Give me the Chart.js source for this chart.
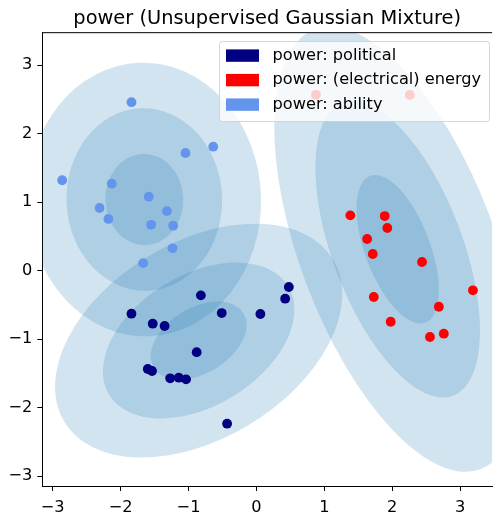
<!DOCTYPE html>
<html>
<head>
<meta charset="utf-8">
<script src="https://cdn.jsdelivr.net/npm/chart.js@4.4.1/dist/chart.umd.min.js"></script>
<style>
  html, body { margin: 0; padding: 0; overflow: hidden; background: #fff; }
  #wrap { width: 497px; height: 519px; }
</style>
</head>
<body>
<div id="wrap"><canvas id="myChart" width="497" height="519"></canvas></div>
<script>
// Categories and colours of the three senses
const categories = ['power: political', 'power: (electrical) energy', 'power: ability'];
const colors = ['#000080', '#ff0000', '#6495ed'];

// Scatter points [x, y] per sense
const politicalPoints = [
  [-1.84, -0.628], [-1.527, -0.774], [-1.352, -0.807], [-0.818, -0.36],
  [-0.511, -0.618], [0.058, -0.632], [0.477, -0.238], [0.423, -0.409],
  [-0.88, -1.19], [-1.60, -1.435], [-1.537, -1.464], [-1.27, -1.571],
  [-1.143, -1.562], [-1.036, -1.586], [-0.432, -2.233]
];
const energyPoints = [
  [1.382, 0.808], [1.889, 0.798], [1.927, 0.623], [1.63, 0.463],
  [1.713, 0.244], [2.438, 0.127], [3.188, -0.286], [1.728, -0.384],
  [2.686, -0.526], [1.977, -0.745], [2.555, -0.968], [2.759, -0.92],
  [0.876, 2.568], [2.258, 2.565]
];
const abilityPoints = [
  [-1.84, 2.46], [-2.86, 1.32], [-2.13, 1.27], [-1.585, 1.08],
  [-2.31, 0.915], [-2.18, 0.755], [-1.318, 0.87], [-1.55, 0.67],
  [-1.226, 0.657], [-1.045, 1.718], [-0.636, 1.81], [-1.235, 0.327],
  [-1.668, 0.11]
];

// Gaussian mixture components (political, energy, ability)
const means = [[-0.851, -1.02], [2.08, 0.314], [-1.651, 1.039]];
const majorAxes = [0.769, 1.145, 0.666];   // 1-sigma semi-axis
const minorAxes = [0.479, 0.479, 0.573];
const anglesDeg = [30.7, -69.1, 92];
const sigmaLevels = [1, 2, 3];

// Axis ticks
const xTicks = [-3, -2, -1, 0, 1, 2, 3];
const yTicks = [-3, -2, -1, 0, 1, 2, 3];

Chart.defaults.font.family = 'DejaVu Sans';
Chart.defaults.color = '#000';

const toXY = pts => pts.map(p => ({ x: p[0], y: p[1] }));
const fmt = v => (v < 0 ? '\u2212' + Math.abs(v) : String(v));

// Gaussian ellipses behind the points
const ellipsePlugin = {
  id: 'ellipses',
  beforeDatasetsDraw(chart) {
    const { ctx, chartArea: a, scales: { x, y } } = chart;
    const kx = x.getPixelForValue(1) - x.getPixelForValue(0);
    const ky = y.getPixelForValue(1) - y.getPixelForValue(0);
    ctx.save();
    ctx.beginPath();
    ctx.rect(a.left, a.top, a.right - a.left, a.bottom - a.top);
    ctx.clip();
    ctx.fillStyle = 'rgba(31, 119, 180, 0.2)';
    means.forEach((m, i) => {
      sigmaLevels.forEach(n => {
        ctx.save();
        ctx.translate(x.getPixelForValue(m[0]), y.getPixelForValue(m[1]));
        ctx.scale(kx, ky);
        ctx.rotate(anglesDeg[i] * Math.PI / 180);
        ctx.beginPath();
        ctx.ellipse(0, 0, majorAxes[i] * n, minorAxes[i] * n, 0, 0, Math.PI * 2);
        ctx.restore();
        ctx.fill();
      });
    });
    ctx.restore();
  }
};

// Top spine and matplotlib-style legend
const framePlugin = {
  id: 'frame',
  afterDraw(chart) {
    const { ctx, chartArea: a } = chart;
    ctx.save();
    ctx.strokeStyle = '#000';
    ctx.lineWidth = 1;
    ctx.beginPath();
    ctx.moveTo(a.left, a.top);
    ctx.lineTo(a.right, a.top);
    ctx.stroke();

    // legend box
    const bx = 219, by = 41, bw = 270, bh = 80;
    ctx.beginPath();
    ctx.roundRect(bx + 0.5, by + 0.5, bw, bh, 3);
    ctx.fillStyle = 'rgba(255,255,255,0.8)';
    ctx.fill();
    ctx.strokeStyle = 'rgba(204,204,204,0.8)';
    ctx.stroke();

    ctx.font = '16.2px "DejaVu Sans"';
    ctx.textBaseline = 'middle';
    ctx.textAlign = 'left';
    categories.forEach((c, i) => {
      const cy = 55.6 + i * 24.5;
      ctx.fillStyle = colors[i];
      ctx.fillRect(226, cy - 6.2, 33, 12.4);
      ctx.fillStyle = '#000';
      ctx.fillText(c, 272.5, cy);
    });
    ctx.restore();
  }
};

new Chart(document.getElementById('myChart'), {
  type: 'scatter',
  data: {
    datasets: [politicalPoints, energyPoints, abilityPoints].map((pts, i) => ({
      label: categories[i],
      data: toXY(pts),
      backgroundColor: colors[i],
      borderColor: colors[i],
      borderWidth: 0,
      pointRadius: 4.9,
      pointHoverRadius: 4.9
    }))
  },
  options: {
    responsive: false,
    animation: false,
    events: [],
    layout: { padding: { left: 0, right: 1, top: 0, bottom: 0 } },
    scales: {
      x: {
        type: 'linear',
        min: -3.153,
        max: 3.47,
        afterFit: s => { s.height = 33; },
        afterBuildTicks: s => { s.ticks = xTicks.map(v => ({ value: v })); },
        grid: { drawOnChartArea: false, tickLength: 5, tickColor: '#000' },
        border: { display: true, color: '#000', width: 1 },
        ticks: { callback: fmt, font: { size: 16.2 }, padding: 7, maxRotation: 0 }
      },
      y: {
        type: 'linear',
        min: -3.143,
        max: 3.4745,
        afterFit: s => { s.width = 42.3; },
        afterBuildTicks: s => { s.ticks = yTicks.map(v => ({ value: v })); },
        grid: { drawOnChartArea: false, tickLength: 5, tickColor: '#000' },
        border: { display: true, color: '#000', width: 1 },
        ticks: { callback: fmt, font: { size: 16.2 }, padding: 5 }
      }
    },
    plugins: {
      legend: { display: false },
      tooltip: { enabled: false },
      title: {
        display: true,
        fullSize: false,
        text: 'power (Unsupervised Gaussian Mixture)',
        font: { size: 19.4, weight: 'normal' },
        color: '#000',
        padding: { top: 7.8, bottom: 1.6 }
      }
    }
  },
  plugins: [ellipsePlugin, framePlugin]
});
</script>
</body>
</html>
